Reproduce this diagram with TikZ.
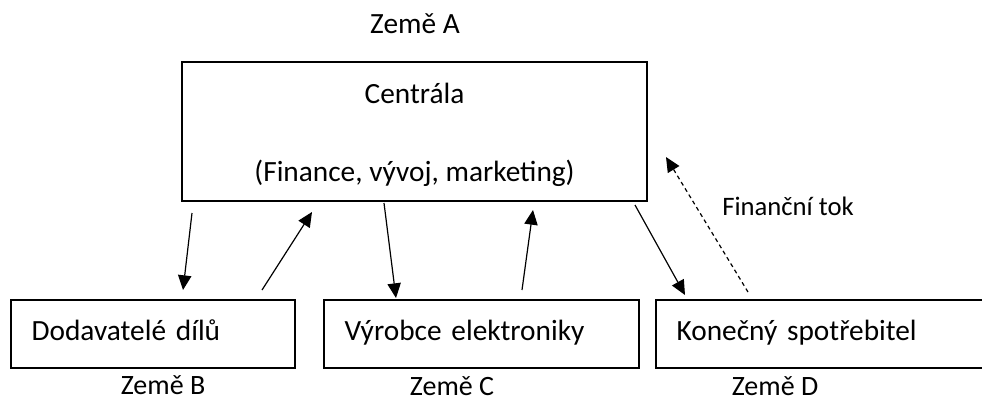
\documentclass[tikz,border=0pt]{standalone}
\usepackage{fontspec}
\setmainfont{Carlito}
\usetikzlibrary{arrows.meta}

\tikzset{
  txt/.style={font=\fontsize{22pt}{26pt}\selectfont, inner sep=0pt},
  country/.style={font=\fontsize{21pt}{25pt}\selectfont, inner sep=0pt, anchor=base},
  box/.style={draw, line width=1.4pt},
  unit/.style={box, txt, anchor=west, align=left, minimum height=51pt,
    inner xsep=15.5pt, text height=15pt, text depth=5pt},
  flow/.style={-{Triangle[length=11pt,width=10pt]}, line width=0.9pt},
  money/.style={flow, dash pattern=on 3pt off 2.5pt}
}

\begin{document}
\begin{tikzpicture}[x=0.75pt, y=-0.75pt]

    % Page frame (pixels of the original)
    \useasboundingbox (0,0) rectangle (982,401);
    \clip (0,0) rectangle (982,401);

    % Headquarters in country A
    \node[box, minimum width=348.75pt, minimum height=104.25pt] (centrala) at (414.5,131.5) {};
    \node[txt, anchor=base] (centrala-nazev) at (414.5,103) {Centrála};
    \node[txt, anchor=base] (centrala-popis) at (414.5,181) {(Finance, vývoj, marketing)};
    \node[country, font=\fontsize{22pt}{26pt}\selectfont] (zeme-a) at (415,33) {Země A};

    % The three units below
    \node[unit, minimum width=213pt, text width=182pt] (dodavatele) at (10,334) {Dodavatelé dílů};
    \node[unit, minimum width=236.25pt, text width=205.25pt] (vyrobce) at (323,334) {Výrobce elektroniky};
    \node[unit, minimum width=251.25pt, text width=220.25pt] (spotrebitel) at (655,334) {Konečný spotřebitel};

    % Country labels
    \node[country] (zeme-b) at (163,394) {Země B};
    \node[country] (zeme-c) at (452,395) {Země C};
    \node[country] (zeme-d) at (775,395) {Země D};

    % End points of the flows
    \coordinate (c-b1) at (192,213);
    \coordinate (b-c1) at (183,290);
    \coordinate (b-c2) at (262,290);
    \coordinate (c-b2) at (312,212);
    \coordinate (c-v1) at (384,203);
    \coordinate (v-c1) at (396,298);
    \coordinate (v-c2) at (522,290);
    \coordinate (c-v2) at (533,210);
    \coordinate (c-s1) at (635,205);
    \coordinate (s-c1) at (685,295);
    \coordinate (s-c2) at (748,292);
    \coordinate (c-s2) at (666,157);

    % Flows of goods
    \draw[flow] (c-b1) -- (b-c1);
    \draw[flow] (b-c2) -- (c-b2);
    \draw[flow] (c-v1) -- (v-c1);
    \draw[flow] (v-c2) -- (c-v2);
    \draw[flow] (c-s1) -- (s-c1);

    % Money back to the headquarters
    \draw[money] (s-c2) -- (c-s2);
    \node[txt, font=\fontsize{20pt}{24pt}\selectfont, anchor=base west] (tok) at (722,215) {Finanční tok};

\end{tikzpicture}
\end{document}
